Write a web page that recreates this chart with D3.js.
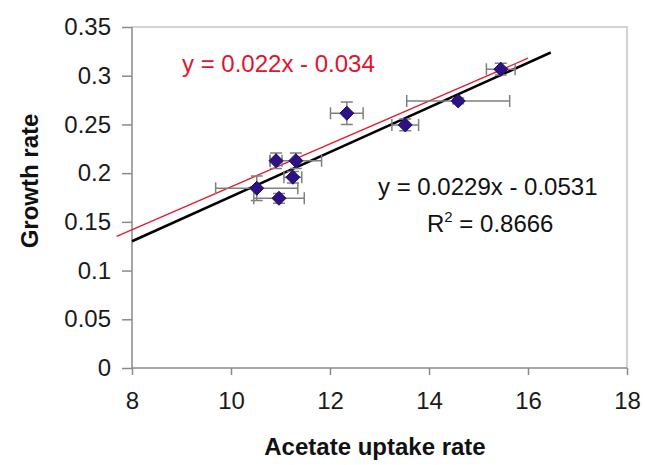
<!DOCTYPE html>
<html>
<head>
<meta charset="utf-8">
<script src="https://cdn.jsdelivr.net/npm/d3@7"></script>
<style>
  body { margin: 0; background: #fff; }
  text { font-family: "Liberation Sans", Arial, sans-serif; }
</style>
</head>
<body>
<div id="chart"></div>
<script>
// data
var uptake = [10.52, 10.97, 10.91, 11.31, 11.25, 12.34, 13.52, 14.59, 15.45];
var growth = [0.1845, 0.1742, 0.2128, 0.2128, 0.1958, 0.2615, 0.2495, 0.2741, 0.3067];
var uptakeErr = [0.83, 0.51, 0.12, 0.52, 0.18, 0.33, 0.27, 1.04, 0.29];
var growthErr = [0.0125, 0.005, 0.008, 0.008, 0.006, 0.0116, 0.006, 0.003, 0.006];

var xTicks = [8, 10, 12, 14, 16, 18];
var yTicks = [0, 0.05, 0.1, 0.15, 0.2, 0.25, 0.3, 0.35];

// fitted lines: [slope, intercept, x from, x to]
var blackFit = [0.0229, -0.0531, 8, 16.46];
var redFit = [0.022, -0.034, 7.69, 16.0];

var svgWidth = 645;
var svgHeight = 465;

var margin = { top: 27, right: 18, bottom: 97, left: 132 };
var chartWidth = svgWidth - margin.left - margin.right;
var chartHeight = svgHeight - margin.top - margin.bottom;

var svg = d3.select("#chart")
  .append("svg")
  .attr("width", svgWidth)
  .attr("height", svgHeight);

var chartGroup = svg.append("g")
  .attr("transform", `translate(${margin.left}, ${margin.top})`);

var xScale = d3.scaleLinear().domain([8, 18]).range([0, chartWidth]);
var yScale = d3.scaleLinear().domain([0, 0.35]).range([chartHeight, 0]);

// light plot border on top and right
chartGroup.append("path")
  .attr("d", `M0,0H${chartWidth}V${chartHeight}`)
  .attr("fill", "none")
  .attr("stroke", "#c4c4c4")
  .attr("stroke-width", 1.5);

// axes
var bottomAxis = d3.axisBottom(xScale).tickValues(xTicks).tickSize(7).tickPadding(17)
  .tickFormat(d3.format("d"));
var leftAxis = d3.axisLeft(yScale).tickValues(yTicks).tickSize(10).tickPadding(11)
  .tickFormat(d => d === 0 ? "0" : String(d));

var xAxisG = chartGroup.append("g")
  .attr("transform", `translate(0, ${chartHeight})`)
  .call(bottomAxis);
var yAxisG = chartGroup.append("g")
  .call(leftAxis);

[xAxisG, yAxisG].forEach(function(g) {
  g.select(".domain").attr("stroke", "#8a8a8a").attr("stroke-width", 1.5);
  g.selectAll(".tick line").attr("stroke", "#8a8a8a").attr("stroke-width", 1.5);
  g.selectAll(".tick text")
    .attr("font-size", "24px")
    .attr("font-family", "Liberation Sans, Arial, sans-serif")
    .attr("fill", "#1a1a1a");
});
xAxisG.selectAll(".domain").attr("d", `M0,0H${chartWidth}`);
yAxisG.selectAll(".domain").attr("d", `M0,0V${chartHeight}`);

// red fit line (extends a little past the left axis)
chartGroup.append("line")
  .attr("x1", xScale(redFit[2]))
  .attr("y1", yScale(redFit[0] * redFit[2] + redFit[1]))
  .attr("x2", xScale(redFit[3]))
  .attr("y2", yScale(redFit[0] * redFit[3] + redFit[1]))
  .attr("stroke", "#e8192f")
  .attr("stroke-width", 1.3);

// black trend line
chartGroup.append("line")
  .attr("x1", xScale(blackFit[2]))
  .attr("y1", yScale(blackFit[0] * blackFit[2] + blackFit[1]))
  .attr("x2", xScale(blackFit[3]))
  .attr("y2", yScale(blackFit[0] * blackFit[3] + blackFit[1]))
  .attr("stroke", "#000")
  .attr("stroke-width", 2.5);

// error bars
var points = uptake.map((x, i) => ({ x: x, y: growth[i], xe: uptakeErr[i], ye: growthErr[i] }));
var cap = 6;
var errGroup = chartGroup.append("g")
  .attr("stroke", "#808080")
  .attr("stroke-width", 1.5)
  .attr("fill", "none");

errGroup.selectAll("path")
  .data(points)
  .enter()
  .append("path")
  .attr("d", function(d) {
    var cx = xScale(d.x), cy = yScale(d.y);
    var x0 = xScale(d.x - d.xe), x1 = xScale(d.x + d.xe);
    var y0 = yScale(d.y - d.ye), y1 = yScale(d.y + d.ye);
    return `M${x0},${cy}H${x1}` +
      `M${x0},${cy - cap}V${cy + cap}M${x1},${cy - cap}V${cy + cap}` +
      `M${cx},${y0}V${y1}` +
      `M${cx - cap},${y0}H${cx + cap}M${cx - cap},${y1}H${cx + cap}`;
  });

// diamond markers
chartGroup.selectAll(".pt")
  .data(points)
  .enter()
  .append("path")
  .attr("class", "pt")
  .attr("transform", d => `translate(${xScale(d.x)}, ${yScale(d.y)})`)
  .attr("d", "M0,-7L7,0L0,7L-7,0Z")
  .attr("fill", "#2e1285")
  .attr("stroke", "#1c0a5c")
  .attr("stroke-width", 1);

// equations
chartGroup.append("text")
  .attr("x", 182 - margin.left)
  .attr("y", 72 - margin.top)
  .attr("font-size", "24px")
  .attr("fill", "#e3132c")
  .text("y = 0.022x - 0.034");

chartGroup.append("text")
  .attr("x", 378 - margin.left)
  .attr("y", 195 - margin.top)
  .attr("font-size", "24px")
  .attr("fill", "#111")
  .text("y = 0.0229x - 0.0531");

var r2 = chartGroup.append("text")
  .attr("x", 427 - margin.left)
  .attr("y", 232 - margin.top)
  .attr("font-size", "24px")
  .attr("fill", "#111");
r2.append("tspan").text("R");
r2.append("tspan").attr("font-size", "15px").attr("dy", -10).text("2");
r2.append("tspan").attr("dy", 10).text(" = 0.8666");

// axis titles
svg.append("text")
  .attr("x", 375)
  .attr("y", 455)
  .attr("text-anchor", "middle")
  .attr("font-size", "24px")
  .attr("font-weight", "bold")
  .attr("fill", "#111")
  .text("Acetate uptake rate");

svg.append("text")
  .attr("transform", "rotate(-90)")
  .attr("x", -181)
  .attr("y", 38)
  .attr("text-anchor", "middle")
  .attr("font-size", "24px")
  .attr("font-weight", "bold")
  .attr("fill", "#111")
  .text("Growth rate");
</script>
</body>
</html>
